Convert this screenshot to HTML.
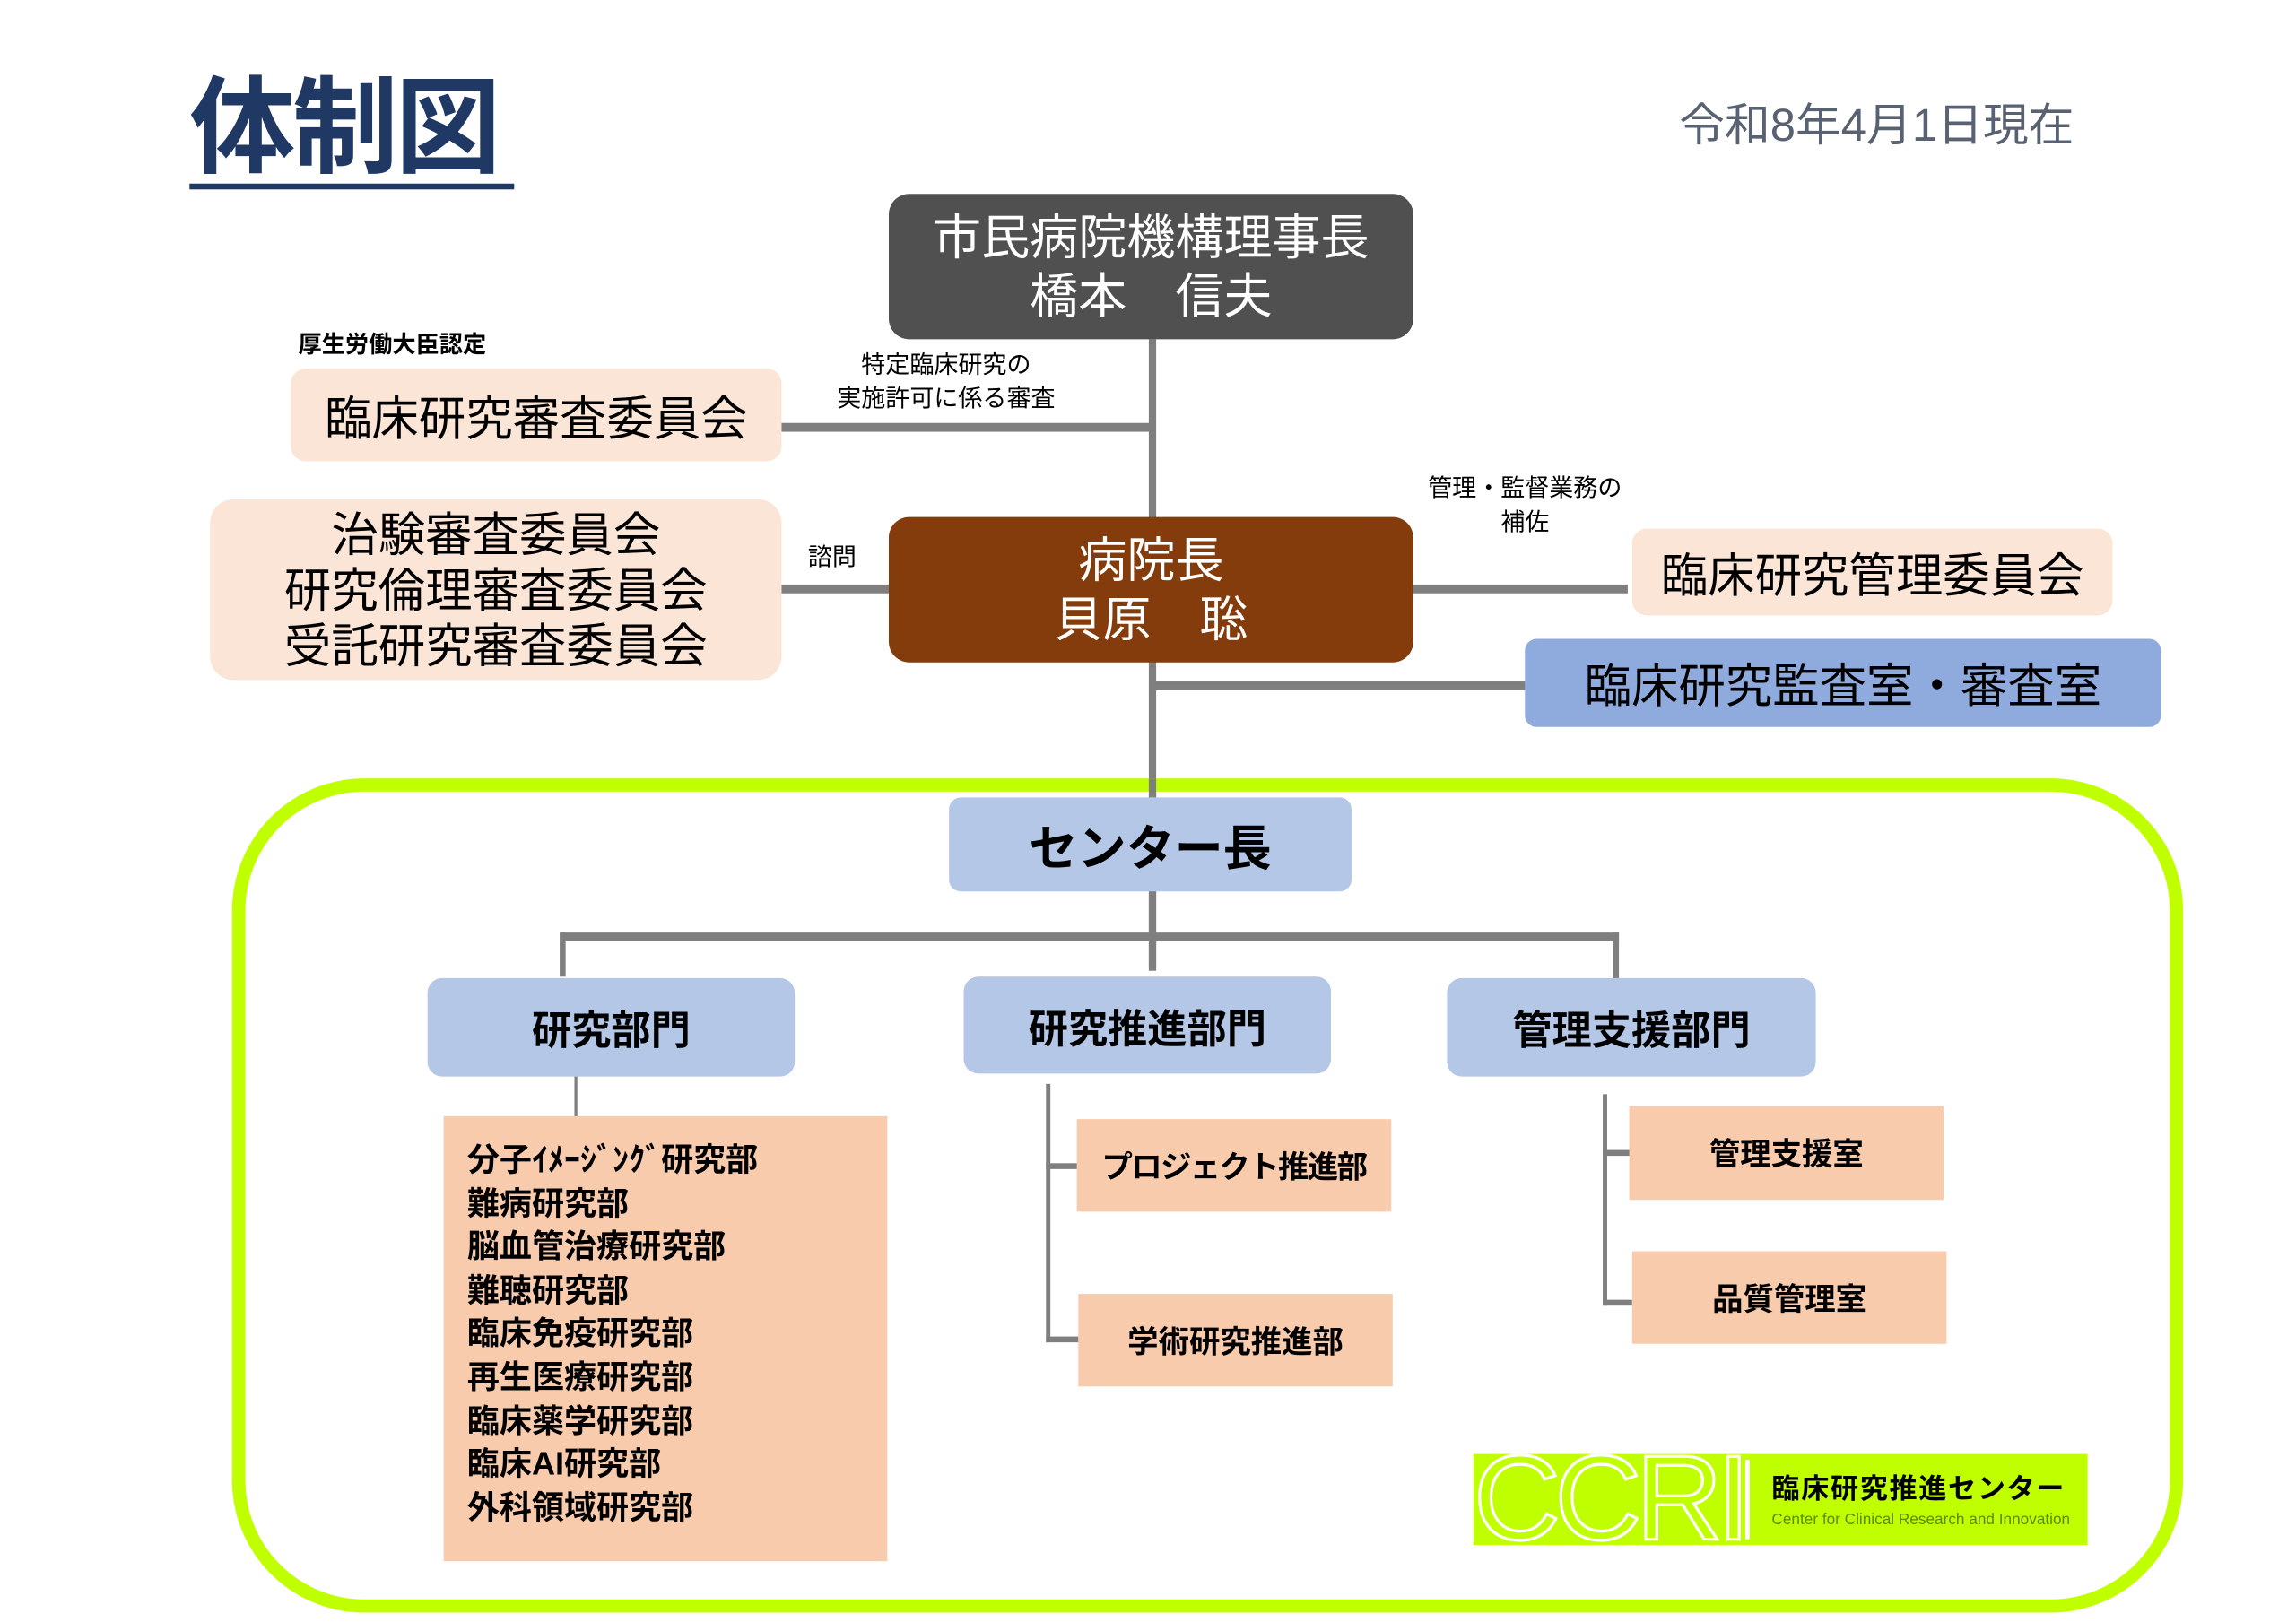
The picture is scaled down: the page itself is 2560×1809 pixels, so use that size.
<!DOCTYPE html>
<html><head><meta charset="utf-8"><style>
html,body{margin:0;padding:0;background:#fff;width:2560px;height:1809px;overflow:hidden}
#s{position:absolute;left:0;top:0;width:1560px;height:1102px;transform:scale(1.638) translate(-2px,0px);transform-origin:0 0;font-family:"Liberation Sans","Noto Sans CJK JP",sans-serif}
.a{position:absolute}
.b{position:absolute;display:flex;align-items:center;justify-content:center;text-align:center;box-sizing:border-box}
.l{position:absolute;background:#7f7f7f}
.bold{font-weight:bold}
</style></head><body><div id="s">
<div class="a bold" style="left:131px;top:48px;font-size:72px;color:#1f3864;line-height:80px;letter-spacing:-2px">体制図</div>
<div class="a" style="left:131px;top:125px;width:221px;height:4px;background:#1f3864"></div>
<div class="a" style="left:1145px;top:66px;font-size:31px;color:#596273;line-height:40px">令和8年4月1日現在</div>

<div class="l" style="left:784px;top:231px;width:5px;height:430px"></div>
<div class="l" style="left:534px;top:288px;width:252px;height:6px"></div>
<div class="l" style="left:534px;top:398px;width:74px;height:6px"></div>
<div class="l" style="left:964px;top:398px;width:146px;height:6px"></div>
<div class="l" style="left:786px;top:464px;width:256px;height:6px"></div>

<div class="b" style="left:607px;top:132px;width:357px;height:99px;background:#505050;border-radius:14px;color:#fff;font-size:33px;line-height:40px">市民病院機構理事長<br>橋本　信夫</div>
<div class="a bold" style="left:205px;top:226px;font-size:16px;line-height:20px">厚生労働大臣認定</div>
<div class="b" style="left:200px;top:251px;width:334px;height:63px;background:#fbe5d6;border-radius:10px;font-size:32px">臨床研究審査委員会</div>
<div class="a" style="left:556px;top:238px;width:180px;text-align:center;font-size:16.5px;line-height:23px">特定臨床研究の<br>実施許可に係る審査</div>
<div class="b" style="left:145px;top:340px;width:389px;height:123px;background:#fbe5d6;border-radius:16px;font-size:32px;line-height:38px">治験審査委員会<br>研究倫理審査委員会<br>受託研究審査委員会</div>
<div class="a" style="left:552px;top:370px;font-size:16.5px;line-height:20px">諮問</div>
<div class="b" style="left:607px;top:352px;width:357px;height:99px;background:#843c0c;border-radius:14px;color:#fff;font-size:33px;line-height:40px">病院長<br>貝原　聡</div>
<div class="a" style="left:950px;top:322px;width:180px;text-align:center;font-size:16.5px;line-height:23px">管理・監督業務の<br>補佐</div>
<div class="b" style="left:1113px;top:360px;width:327px;height:59px;background:#fbe5d6;border-radius:10px;font-size:32px">臨床研究管理委員会</div>
<div class="b" style="left:1040px;top:435px;width:433px;height:60px;background:#8faadc;border-radius:8px;font-size:32px">臨床研究監査室・審査室</div>

<div class="a" style="left:160px;top:530px;width:1328px;height:568px;box-sizing:border-box;border:9px solid #bfff00;border-radius:90px"></div>
<div class="l" style="left:784px;top:530px;width:5px;height:14px"></div>
<div class="l" style="left:784px;top:607px;width:5px;height:52px"></div>
<div class="l" style="left:384px;top:635px;width:720px;height:6px"></div>
<div class="l" style="left:383px;top:635px;width:4px;height:30px"></div>
<div class="l" style="left:1100px;top:635px;width:4px;height:33px"></div>

<div class="b bold" style="left:648px;top:543px;width:274px;height:64px;background:#b4c7e7;border-radius:8px;font-size:33px">センター長</div>
<div class="b bold" style="left:293px;top:666px;width:250px;height:67px;background:#b4c7e7;border-radius:10px;font-size:27px">研究部門</div>
<div class="b bold" style="left:658px;top:665px;width:250px;height:66px;background:#b4c7e7;border-radius:10px;font-size:27px">研究推進部門</div>
<div class="b bold" style="left:987px;top:666px;width:251px;height:67px;background:#b4c7e7;border-radius:10px;font-size:27px">管理支援部門</div>

<div class="l" style="left:393px;top:733px;width:2px;height:28px"></div>
<div class="a bold" style="left:304px;top:760px;width:302px;height:303px;background:#f8cbad;box-sizing:border-box;padding:15px 0 0 16px;font-size:22px;line-height:29.6px">分子ｲﾒｰｼﾞﾝｸﾞ研究部<br>難病研究部<br>脳血管治療研究部<br>難聴研究部<br>臨床免疫研究部<br>再生医療研究部<br>臨床薬学研究部<br>臨床AI研究部<br>外科領域研究部</div>

<div class="l" style="left:714px;top:738px;width:3px;height:176px"></div>
<div class="l" style="left:714px;top:792px;width:22px;height:4px"></div>
<div class="l" style="left:714px;top:910px;width:22px;height:4px"></div>
<div class="b bold" style="left:735px;top:762px;width:214px;height:63px;background:#f8cbad;font-size:21px;letter-spacing:-1px">プロジェクト推進部</div>
<div class="b bold" style="left:736px;top:881px;width:214px;height:63px;background:#f8cbad;font-size:21px">学術研究推進部</div>

<div class="l" style="left:1093px;top:745px;width:3px;height:144px"></div>
<div class="l" style="left:1093px;top:783px;width:19px;height:4px"></div>
<div class="l" style="left:1093px;top:885px;width:20px;height:4px"></div>
<div class="b bold" style="left:1111px;top:753px;width:214px;height:64px;background:#f8cbad;font-size:21px">管理支援室</div>
<div class="b bold" style="left:1113px;top:852px;width:214px;height:63px;background:#f8cbad;font-size:21px">品質管理室</div>

<div class="a" style="left:1005px;top:990px;width:418px;height:62px;background:#bfff00;overflow:hidden">
<div class="a" style="left:0;top:-12px;font-size:82px;line-height:86px;color:transparent;-webkit-text-stroke:2px #fff;font-family:'Liberation Sans',sans-serif;letter-spacing:-4px">CCRI</div>
<div class="a" style="left:185px;top:4px;width:3px;height:54px;background:#fff"></div>
<div class="a bold" style="left:203px;top:14px;font-size:19px;line-height:22px;letter-spacing:1px">臨床研究推進センター</div>
<div class="a" style="left:203px;top:39px;font-size:10.5px;line-height:13px;color:#5a8a00">Center for Clinical Research and Innovation</div>
</div>
</div></body></html>
